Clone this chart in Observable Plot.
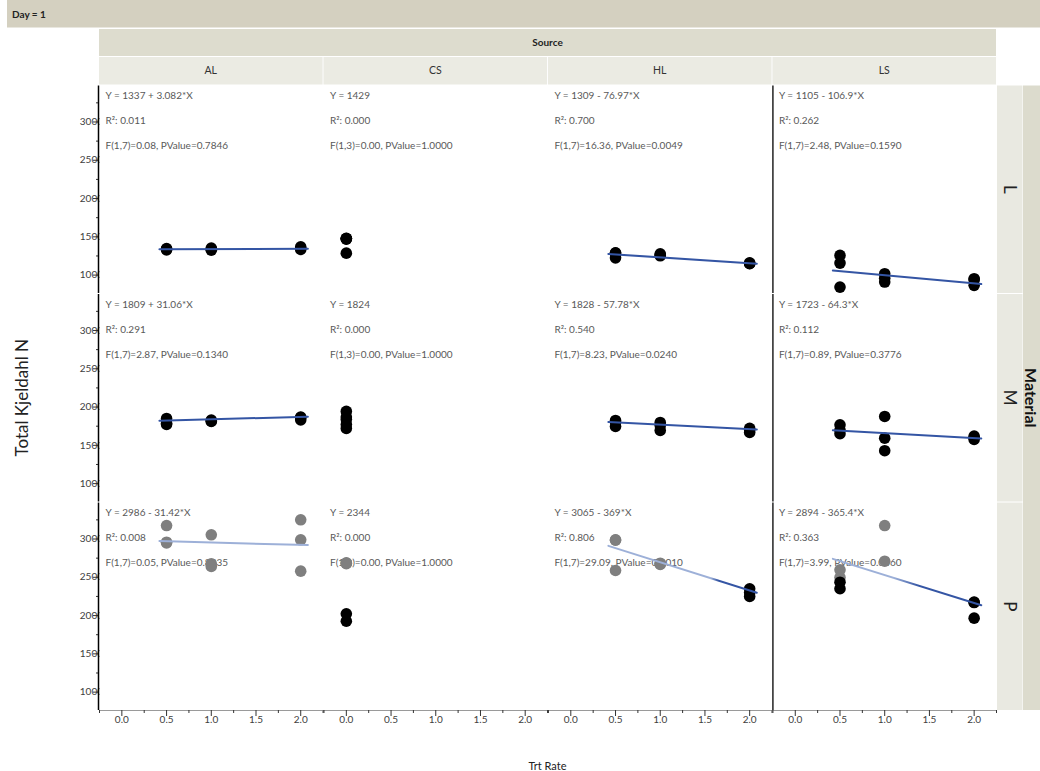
<!DOCTYPE html>
<html><head><meta charset="utf-8">
<script src="https://cdn.jsdelivr.net/npm/d3@7"></script>
<script src="https://cdn.jsdelivr.net/npm/@observablehq/plot@0.6"></script>
<style>
body{margin:0;background:#fff;font-family:Lato,sans-serif}
#chart{position:relative;width:1040px;height:771px;overflow:hidden}
#chart svg{overflow:hidden}
</style></head><body><div id="chart"></div><script>
// ---- categories & axes ----
const dayLabel = "Day = 1";
const sources = ["AL", "CS", "HL", "LS"];
const materials = ["L", "M", "P"];
const xDomain = [-0.25, 2.25];
const yDomain = [760, 3470];
const xTicks = [0, 0.5, 1, 1.5, 2];
const xMinorTicks = [-0.25, 0.25, 0.75, 1.25, 1.75, 2.25];
const yTicks = [1000, 1500, 2000, 2500, 3000];
const yMinorTicks = [1250, 1750, 2250, 2750, 3250];
const fitRange = [0.42, 2.08];

// ---- observations per panel: [Trt Rate, Total Kjeldahl N, excluded(1) ] ----
const AL_L = [[0.5,1330,0],[0.5,1338,0],[0.5,1346,0],[1,1325,0],[1,1340,0],[1,1352,0],[2,1335,0],[2,1350,0],[2,1368,0]];
const CS_L = [[0,1470,0],[0,1475,0],[0,1480,0],[0,1478,0],[0,1287,0]];
const HL_L = [[0.5,1292,0],[0.5,1288,0],[0.5,1225,0],[1,1278,0],[1,1252,0],[1,1262,0],[2,1160,0],[2,1153,0],[2,1148,0]];
const LS_L = [[0.5,1257,0],[0.5,1157,0],[0.5,843,0],[1,1018,0],[1,909,0],[1,960,0],[2,953,0],[2,940,0],[2,866,0]];
const AL_M = [[0.5,1851,0],[0.5,1773,0],[0.5,1790,0],[1,1831,0],[1,1812,0],[1,1820,0],[2,1870,0],[2,1831,0],[2,1862,0]];
const CS_M = [[0,1943,0],[0,1870,0],[0,1838,0],[0,1773,0],[0,1721,0]];
const HL_M = [[0.5,1825,0],[0.5,1747,0],[0.5,1800,0],[1,1799,0],[1,1695,0],[1,1760,0],[2,1721,0],[2,1668,0],[2,1700,0]];
const LS_M = [[0.5,1769,0],[0.5,1700,0],[0.5,1652,0],[1,1877,0],[1,1594,0],[1,1430,0],[2,1620,0],[2,1577,0],[2,1600,0]];
const AL_P = [[0.5,3176,1],[0.5,2958,1],[0.5,2950,1],[1,3055,1],[1,2676,1],[1,2641,1],[2,3251,1],[2,2990,1],[2,2580,1]];
const CS_P = [[0,2690,1],[0,2684,1],[0,2678,1],[0,2024,0],[0,1927,0]];
const HL_P = [[0.5,2990,1],[0.5,2985,1],[0.5,2589,1],[1,2684,1],[1,2667,1],[1,2676,1],[2,2350,0],[2,2300,0],[2,2250,0]];
const LS_P = [[0.5,2598,1],[0.5,2498,1],[0.5,2436,0],[0.5,2350,0],[1,3176,1],[1,2710,1],[2,2175,0],[2,2170,0],[2,1966,0]];

// ---- fit results (row order L, M, P; column order AL, CS, HL, LS) ----
const fitIntercept = [[1337,1429,1309,1105],[1809,1824,1828,1723],[2986,2344,3065,2894]];
const fitSlope     = [[3.082,0,-76.97,-106.9],[31.06,0,-57.78,-64.3],[-31.42,0,-369,-365.4]];
const hasFitLine   = [[1,0,1,1],[1,0,1,1],[1,0,1,1]];
const lineStyle    = [["dark","","dark","dark"],["dark","","dark","dark"],["light","","gradHL","gradLS"]];
const eqText = [["Y = 1337 + 3.082*X","Y = 1429","Y = 1309 - 76.97*X","Y = 1105 - 106.9*X"],
                ["Y = 1809 + 31.06*X","Y = 1824","Y = 1828 - 57.78*X","Y = 1723 - 64.3*X"],
                ["Y = 2986 - 31.42*X","Y = 2344","Y = 3065 - 369*X","Y = 2894 - 365.4*X"]];
const r2Text = [["R²: 0.011","R²: 0.000","R²: 0.700","R²: 0.262"],
                ["R²: 0.291","R²: 0.000","R²: 0.540","R²: 0.112"],
                ["R²: 0.008","R²: 0.000","R²: 0.806","R²: 0.363"]];
const fText = [["F(1,7)=0.08, PValue=0.7846","F(1,3)=0.00, PValue=1.0000","F(1,7)=16.36, PValue=0.0049","F(1,7)=2.48, PValue=0.1590"],
               ["F(1,7)=2.87, PValue=0.1340","F(1,3)=0.00, PValue=1.0000","F(1,7)=8.23, PValue=0.0240","F(1,7)=0.89, PValue=0.3776"],
               ["F(1,7)=0.05, PValue=0.8235","F(1,3)=0.00, PValue=1.0000","F(1,7)=29.09, PValue=0.0010","F(1,7)=3.99, PValue=0.0860"]];

// ---- build tables ----
const panelData = {AL_L, CS_L, HL_L, LS_L, AL_M, CS_M, HL_M, LS_M, AL_P, CS_P, HL_P, LS_P};
const points = [], fits = [], notes = [];
materials.forEach((m, j) => sources.forEach((s, i) => {
  const key = s + "_" + m;
  panelData[key].forEach(([rate, tkn, ex]) => points.push({source: s, material: m, rate, tkn, excluded: ex === 1}));
  notes.push({source: s, material: m, eq: eqText[j][i], r2: r2Text[j][i], f: fText[j][i]});
  if (hasFitLine[j][i]) fitRange.forEach(x => fits.push({source: s, material: m, key, style: lineStyle[j][i], x, y: fitIntercept[j][i] + fitSlope[j][i] * x}));
}));
const axisRules = (col) => materials.map(m => ({source: col, material: m, x: xDomain[0]}));
const bottomRules = sources.map(s => ({source: s, material: materials[materials.length - 1], y: yDomain[0]}));

const F = {fx: "source", fy: "material"};
const chart = Plot.plot({
  width: 1040, height: 771,
  marginLeft: 99, marginRight: 44, marginTop: 85.5, marginBottom: 61,
  style: {fontFamily: "Lato, sans-serif", background: "white", fontSize: "10px"},
  fx: {domain: sources, paddingInner: 0.004, paddingOuter: 0, round: false, axis: null, label: null},
  fy: {domain: materials, paddingInner: 0.005, paddingOuter: 0, round: false, axis: null, label: null},
  x: {domain: xDomain, label: null},
  y: {domain: yDomain, label: null},
  marks: [
    Plot.axisY({ticks: yTicks, tickSize: 0, tickPadding: -3.5, tickFormat: d => String(d), fontSize: 10, fill: "#404040", label: null}),
    Plot.frame({fill: "white", stroke: "none"}),
    Plot.axisY({ticks: yTicks, tickSize: 6, text: null, label: null, stroke: "#333"}),
    Plot.axisY({ticks: yMinorTicks, tickSize: 3, text: null, label: null, stroke: "#333"}),
    Plot.ruleX(axisRules("AL"), {x: "x", ...F, stroke: "black", strokeWidth: 1.5, dx: -1}),
    Plot.ruleX(axisRules("LS"), {x: "x", ...F, stroke: "black", strokeWidth: 1.3}),
    Plot.ruleY(bottomRules, {y: "y", ...F, stroke: "#9a9a9a", strokeWidth: 1}),
    Plot.axisX({ticks: xTicks, tickFormat: d3.format(".1f"), tickSize: 6, tickPadding: -1, fontSize: 10, fill: "#404040", stroke: "#333", label: null}),
    Plot.axisX({ticks: xMinorTicks, tickSize: 3, text: null, label: null, stroke: "#333"}),
    Plot.text(notes, {...F, text: "eq", frameAnchor: "top-left", dx: 6, dy: 10, lineAnchor: "middle", fontSize: 10, fill: "#595959"}),
    Plot.text(notes, {...F, text: "r2", frameAnchor: "top-left", dx: 6, dy: 35, lineAnchor: "middle", fontSize: 10, fill: "#595959"}),
    Plot.text(notes, {...F, text: "f", frameAnchor: "top-left", dx: 6, dy: 60, lineAnchor: "middle", fontSize: 10, fill: "#595959"}),
    Plot.dot(points.filter(d => d.excluded), {x: "rate", y: "tkn", ...F, r: 5.8, fill: "#7f7f7f"}),
    Plot.dot(points.filter(d => !d.excluded), {x: "rate", y: "tkn", ...F, r: 5.8, fill: "black"}),
    Plot.line(fits.filter(d => d.style === "dark"), {x: "x", y: "y", z: "key", ...F, stroke: "#3455a4", strokeWidth: 2}),
    Plot.line(fits.filter(d => d.style === "light"), {x: "x", y: "y", z: "key", ...F, stroke: "#9db0d8", strokeWidth: 2}),
    Plot.line(fits.filter(d => d.style === "gradHL"), {x: "x", y: "y", z: "key", ...F, stroke: "url(#gradHL)", strokeWidth: 2}),
    Plot.line(fits.filter(d => d.style === "gradLS"), {x: "x", y: "y", z: "key", ...F, stroke: "url(#gradLS)", strokeWidth: 2})
  ]
});
document.getElementById("chart").appendChild(chart);

// ---- gradients & header strips ----
const svgSel = d3.select(chart);
const defs = svgSel.insert("defs", ":first-child");
function grad(id, a, b) {
  const g = defs.append("linearGradient").attr("id", id).attr("x1", 0).attr("x2", 1).attr("y1", 0).attr("y2", 0);
  g.append("stop").attr("offset", a).attr("stop-color", "#9db0d8");
  g.append("stop").attr("offset", b).attr("stop-color", "#3455a4");
}
grad("gradHL", 0.69, 0.74);
grad("gradLS", 0.41, 0.58);

let fxS, fyS;
try { const a = chart.scale("fx"), b = chart.scale("fy"); fxS = {apply: a.apply, bw: a.bandwidth}; fyS = {apply: b.apply, bw: b.bandwidth}; } catch (e) {}
if (!fxS || !fxS.apply || !fxS.bw) {
  const bx = d3.scaleBand(sources, [99, 996]).paddingInner(0.004);
  const by = d3.scaleBand(materials, [85.5, 710]).paddingInner(0.005);
  fxS = {apply: bx, bw: bx.bandwidth()}; fyS = {apply: by, bw: by.bandwidth()};
}
const pLeft = fxS.apply(sources[0]), pRight = fxS.apply(sources[sources.length - 1]) + fxS.bw;
const pTop = fyS.apply(materials[0]), pBottom = fyS.apply(materials[materials.length - 1]) + fyS.bw;
const hg = svgSel.insert("g", "defs + *").attr("font-family", "Lato, sans-serif").attr("text-anchor", "start");
hg.append("rect").attr("x", 7).attr("y", 0).attr("width", 1033).attr("height", 27.5).attr("fill", "#d4d0c0");
hg.append("text").attr("x", 12).attr("y", 15.5).attr("text-anchor", "start").attr("dominant-baseline", "middle").attr("font-weight", "bold").attr("font-size", 10).attr("fill", "#222").text(dayLabel);
hg.append("rect").attr("x", pLeft).attr("y", 29).attr("width", pRight - pLeft).attr("height", 27).attr("fill", "#dddcce");
hg.append("text").attr("x", (pLeft + pRight) / 2).attr("y", 43).attr("text-anchor", "middle").attr("dominant-baseline", "middle").attr("font-weight", "bold").attr("font-size", 10).attr("fill", "#222").text("Source");
sources.forEach(s => {
  const x = fxS.apply(s);
  hg.append("rect").attr("x", x).attr("y", 57).attr("width", fxS.bw).attr("height", pTop - 58).attr("fill", "#ebebe3");
  hg.append("text").attr("x", x + fxS.bw / 2).attr("y", 71).attr("text-anchor", "middle").attr("dominant-baseline", "middle").attr("font-size", 10.5).attr("fill", "#333").text(s);
});
materials.forEach(m => {
  const y = fyS.apply(m);
  hg.append("rect").attr("x", pRight + 1).attr("y", y).attr("width", 25.5).attr("height", fyS.bw).attr("fill", "#e9e9e1");
  hg.append("text").attr("transform", `translate(${pRight + 8},${y + fyS.bw / 2}) rotate(90)`).attr("text-anchor", "middle").attr("font-size", 17).attr("fill", "#222").text(m);
});
hg.append("rect").attr("x", pRight + 27).attr("y", pTop).attr("width", 1040 - pRight - 27).attr("height", pBottom - pTop).attr("fill", "#dcdbcd");
hg.append("text").attr("transform", `translate(${pRight + 29},${(pTop + pBottom) / 2}) rotate(90)`).attr("text-anchor", "middle").attr("font-size", 16).attr("font-weight", "bold").attr("fill", "#111").text("Material");
hg.append("text").attr("transform", `translate(28,${(pTop + pBottom) / 2}) rotate(-90)`).attr("text-anchor", "middle").attr("font-size", 17).attr("fill", "#222").text("Total Kjeldahl N");
hg.append("text").attr("x", (pLeft + pRight) / 2).attr("y", 769.5).attr("text-anchor", "middle").attr("font-size", 11).attr("fill", "#222").text("Trt Rate");
</script></body></html>
